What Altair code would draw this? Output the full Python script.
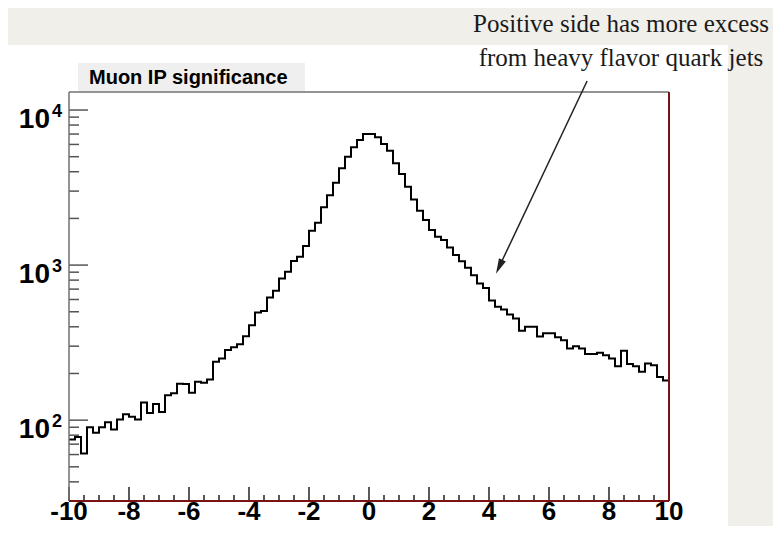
import altair as alt
import pandas as pd

# ---- data ----
counts = [75, 78, 61, 90, 83, 90, 97, 87, 101, 109,
          105, 101, 130, 111, 127, 113, 145, 149, 172, 171,
          150, 177, 174, 183, 238, 250, 283, 295, 309, 348,
          410, 495, 505, 619, 682, 820, 906, 1061, 1132, 1327,
          1665, 1875, 2357, 2818, 3398, 4206, 5003, 5745, 6400, 7000,
          7000, 6665, 6040, 5460, 4530, 3864, 3200, 2653, 2240, 1950,
          1681, 1523, 1450, 1300, 1160, 1060, 960, 860, 760, 712,
          590, 538, 518, 480, 453, 377, 400, 400, 346, 364,
          364, 342, 328, 290, 300, 290, 267, 267, 272, 262,
          250, 223, 280, 230, 223, 205, 232, 226, 190, 180]
x_lo, x_hi = -10, 10
bin_width = 0.2

x_major = [-10, -8, -6, -4, -2, 0, 2, 4, 6, 8, 10]
x_labels = ["-10", "-8", "-6", "-4", "-2", "0", "2", "4", "6", "8", "10"]
x_minor = [v / 2 for v in range(-20, 21) if v % 4 != 0]
y_major = [100, 1000, 10000]
y_base = ["10", "10", "10"]
y_exp = ["2", "3", "4"]
y_minor = [40, 50, 60, 70, 80, 90,
           200, 300, 400, 500, 600, 700, 800, 900,
           2000, 3000, 4000, 5000, 6000, 7000, 8000, 9000]
y_domain = [30.1, 13070]

title_text = ["Muon IP significance"]
note_line1 = ["Positive side has more excess"]
note_line2 = ["from heavy flavor quark jets"]
arrow_x = [7.27, 4.34]
arrow_y = [15380, 975]

# ---- tables ----
edges = [x_lo + bin_width * i for i in range(len(counts))] + [x_hi]
hist = pd.DataFrame({"edge": edges, "count": counts + [counts[-1]]})
one = pd.DataFrame({"k": [0]})

xs = alt.Scale(domain=[x_lo, x_hi], nice=False, zero=False)
ys = alt.Scale(type="log", domain=y_domain, nice=False)

W, H = 600, 409
SANS = "Liberation Sans"
SERIF = "Liberation Serif"

bg = alt.Chart(one).mark_rect(color="white").encode(
    x=alt.value(-61), x2=alt.value(659), y=alt.value(-47), y2=alt.value(434))

title_box = alt.Chart(one).mark_rect(color="#efefef").encode(
    x=alt.value(9), x2=alt.value(236), y=alt.value(-29), y2=alt.value(-1))
title = alt.Chart(pd.DataFrame({"t": title_text})).mark_text(
    align="left", baseline="alphabetic", font=SANS, fontWeight="bold",
    fontSize=20, color="black").encode(
    x=alt.value(20), y=alt.value(-8), text="t:N")

line = alt.Chart(hist).mark_line(
    interpolate="step-after", color="black", strokeWidth=2).encode(
    x=alt.X("edge:Q", scale=xs, axis=None),
    y=alt.Y("count:Q", scale=ys, axis=None))

ytick_major = alt.Chart(pd.DataFrame({"v": y_major})).mark_rule(
    color="#555555", strokeWidth=1.5).encode(
    y=alt.Y("v:Q", scale=ys, axis=None), x=alt.value(0), x2=alt.value(19))
ytick_minor = alt.Chart(pd.DataFrame({"v": y_minor})).mark_rule(
    color="#555555", strokeWidth=1.5).encode(
    y=alt.Y("v:Q", scale=ys, axis=None), x=alt.value(0), x2=alt.value(10))
xtick_major = alt.Chart(pd.DataFrame({"v": x_major})).mark_rule(
    color="#222222", strokeWidth=1.5).encode(
    x=alt.X("v:Q", scale=xs, axis=None), y=alt.value(H), y2=alt.value(H - 14))
xtick_minor = alt.Chart(pd.DataFrame({"v": x_minor})).mark_rule(
    color="#222222", strokeWidth=1.5).encode(
    x=alt.X("v:Q", scale=xs, axis=None), y=alt.value(H), y2=alt.value(H - 6))

frame_top = alt.Chart(one).mark_rule(color="#707070", strokeWidth=1.5).encode(
    x=alt.value(0), x2=alt.value(W), y=alt.value(0))
frame_left = alt.Chart(one).mark_rule(color="#707070", strokeWidth=1.5).encode(
    x=alt.value(0), y=alt.value(0), y2=alt.value(H))
frame_right = alt.Chart(one).mark_rule(color="#7a1414", strokeWidth=2).encode(
    x=alt.value(W), y=alt.value(0), y2=alt.value(H))
frame_bottom = alt.Chart(one).mark_rule(color="#7a1414", strokeWidth=2).encode(
    x=alt.value(0), x2=alt.value(W), y=alt.value(H))

xlab = alt.Chart(pd.DataFrame({"v": x_major, "t": x_labels})).mark_text(
    align="center", baseline="alphabetic", font=SANS, fontWeight="bold",
    fontSize=26, color="black").encode(
    x=alt.X("v:Q", scale=xs, axis=None), y=alt.value(H + 19), text="t:N")

ylab_df = pd.DataFrame({"v": y_major, "b": y_base, "e": y_exp})
ylab = alt.Chart(ylab_df).mark_text(
    align="right", baseline="alphabetic", font=SANS, fontWeight="bold",
    fontSize=28, color="black", dy=18).encode(
    y=alt.Y("v:Q", scale=ys, axis=None), x=alt.value(-19), text="b:N")
yexp = alt.Chart(ylab_df).mark_text(
    align="left", baseline="alphabetic", font=SANS, fontWeight="bold",
    fontSize=18, color="black", dy=7).encode(
    y=alt.Y("v:Q", scale=ys, axis=None), x=alt.value(-17), text="e:N")

arrow_df = pd.DataFrame({"x": [arrow_x[0]], "y": [arrow_y[0]],
                         "x2": [arrow_x[1]], "y2": [arrow_y[1]]})
arrow_line = alt.Chart(arrow_df).mark_rule(color="#222222", strokeWidth=1.5).encode(
    x=alt.X("x:Q", scale=xs, axis=None), y=alt.Y("y:Q", scale=ys, axis=None),
    x2="x2:Q", y2="y2:Q")
arrow_head = alt.Chart(arrow_df).mark_point(
    shape="M0,-1L0.5,1L-0.5,1Z", filled=True, color="#222222",
    size=230, angle=205, opacity=1, strokeWidth=0).encode(
    x=alt.X("x2:Q", scale=xs, axis=None), y=alt.Y("y2:Q", scale=ys, axis=None))

note1 = alt.Chart(pd.DataFrame({"t": note_line1})).mark_text(
    align="center", baseline="alphabetic", font=SERIF, fontSize=25,
    color="#1a1a1a").encode(x=alt.value(552), y=alt.value(-60), text="t:N")
note2 = alt.Chart(pd.DataFrame({"t": note_line2})).mark_text(
    align="center", baseline="alphabetic", font=SERIF, fontSize=25,
    color="#1a1a1a").encode(x=alt.value(552), y=alt.value(-26), text="t:N")

chart = alt.layer(
    bg, title_box, title, line,
    ytick_major, ytick_minor, xtick_major, xtick_minor,
    frame_top, frame_left, frame_right, frame_bottom,
    xlab, ylab, yexp, arrow_line, arrow_head, note1, note2
).properties(
    width=W, height=H,
    autosize=alt.AutoSizeParams(type="none"),
    padding={"left": 61, "top": 84, "right": 104, "bottom": 25},
    background="#f1efea",
).configure_view(stroke=None)

chart.save("out.html", embed_options={"renderer": "svg", "actions": False})
